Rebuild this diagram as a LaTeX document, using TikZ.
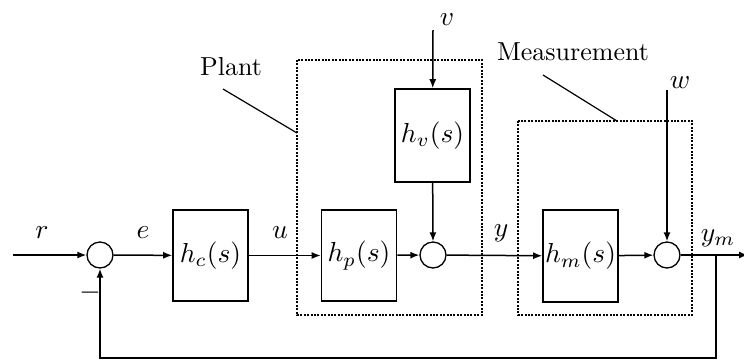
\documentclass[tikz,border=0pt]{standalone}
\usepackage{graphicx}
\usetikzlibrary{arrows.meta}
\newcommand{\bigtxt}[1]{\scalebox{2.6}{#1}}
\newcommand{\mtxt}[1]{\scalebox{2.75}{#1}}
\begin{document}
\begin{tikzpicture}[x=1pt,y=-1pt,
  blk/.style={draw,line width=1.6pt,minimum width=75pt,minimum height=91pt,inner sep=0pt},
  sumc/.style={draw,circle,line width=1.3pt,minimum size=26pt,inner sep=0pt},
  grp/.style={draw,line width=1.9pt,dash pattern=on 2pt off 1.4pt},
  sig/.style={line width=1.5pt,-{Latex[length=9pt,width=7pt]}},
  wire/.style={line width=1.2pt},
  lbl/.style={inner sep=0pt}]
\useasboundingbox (0,0) rectangle (744,360);
% groups
\draw[grp] (297,60) rectangle (482,315);
\draw[grp] (518,121) rectangle (692,315);
% blocks
\node[sumc] (s1) at (100,255) {};
\node[blk] (hc) at (210.5,255.5) {\mtxt{$h_c(s)$}};
\node[blk] (hp) at (359,255.5) {\mtxt{$h_p(s)$}};
\node[blk,minimum height=93pt] (hv) at (432.5,135.5) {\mtxt{$h_v(s)$}};
\node[sumc] (s2) at (433,255) {};
\node[blk,minimum height=92pt] (hm) at (580.5,256) {\mtxt{$h_m(s)$}};
\node[sumc] (s3) at (667,255) {};
% coordinates
\coordinate (rin) at (13,255);
\coordinate (vin) at (433,30);
\coordinate (win) at (667,90);
\coordinate (tap) at (716,255);
\coordinate (out) at (748,255);
\coordinate (fb1) at (716,358);
\coordinate (fb2) at (100,358);
\coordinate (pl1) at (223,89);
\coordinate (pl2) at (297,133);
\coordinate (ms1) at (543,75);
\coordinate (ms2) at (617,121);
% signals
\draw[sig] (rin) -- (s1);
\draw[sig] (s1) -- (hc);
\draw[sig] (hc) -- (hp);
\draw[sig] (hp) -- (s2);
\draw[sig] (vin) -- (hv);
\draw[sig] (hv) -- (s2);
\draw[sig] (s2) -- (hm);
\draw[sig] (hm) -- (s3);
\draw[sig] (win) -- (s3);
\draw[sig] (s3) -- (out);
\draw[sig] (tap) -- (fb1) -- (fb2) -- (s1);
% leaders
\draw[wire] (pl1) -- (pl2);
\draw[wire] (ms1) -- (ms2);
% labels
\node[lbl] (lr) at (42,233) {\mtxt{$r$}};
\node[lbl] (le) at (143,233) {\mtxt{$e$}};
\node[lbl] (lu) at (280,233) {\mtxt{$u$}};
\node[lbl] (ly) at (501,233) {\mtxt{$y$}};
\node[lbl] (lym) at (718,238) {\mtxt{$y_m$}};
\node[lbl] (lv) at (447,20) {\mtxt{$v$}};
\node[lbl] (lw) at (680,83) {\mtxt{$w$}};
\node[lbl] (lminus) at (90,293) {\mtxt{$-$}};
\node[lbl] (lplant) at (231,67) {\bigtxt{Plant}};
\node[lbl] (lmeas) at (573,52) {\bigtxt{Measurement}};
\end{tikzpicture}
\end{document}
